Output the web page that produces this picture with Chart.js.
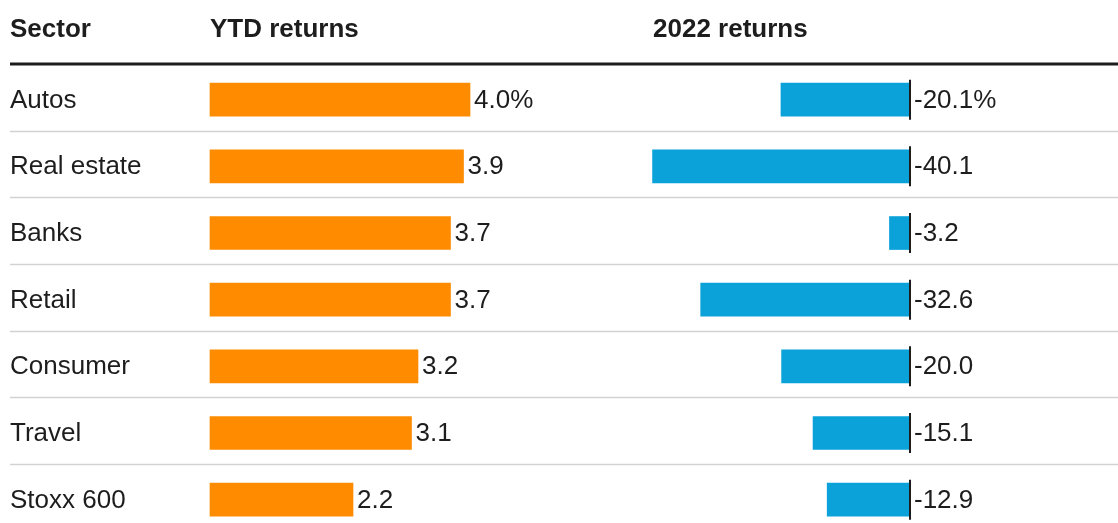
<!DOCTYPE html>
<html>
<head>
  <meta charset="UTF-8">
  <title>Sector returns</title>
  <script src="https://cdn.jsdelivr.net/npm/chart.js"></script>
  <style>
    html, body { margin: 0; padding: 0; background: #fff; }
    #wrap { width: 1118px; height: 523px; }
  </style>
</head>
<body>
  <div id="wrap"><canvas id="chart" width="1118" height="523"></canvas></div>

  <script>
    const sectors = ['Autos', 'Real estate', 'Banks', 'Retail', 'Consumer', 'Travel', 'Stoxx 600'];
    const ytdReturns = [4.0, 3.9, 3.7, 3.7, 3.2, 3.1, 2.2];
    const returns2022 = [-20.1, -40.1, -3.2, -32.6, -20.0, -15.1, -12.9];
    const headers = ['Sector', 'YTD returns', '2022 returns'];

    const ORANGE = '#ff8c00', BLUE = '#0ba2d9', INK = '#1d1d1d', RULE = '#d2d2d2';
    const FONT = '"Liberation Sans", Arial, sans-serif';

    // first row carries the unit
    const fmt = (v, i) => v.toFixed(1) + (i === 0 ? '%' : '');

    // header, row rules, sector names, value labels and the zero ticks
    const tablePlugin = {
      id: 'table',
      beforeDatasetsDraw(chart) {
        const { ctx, scales: { y } } = chart;
        ctx.save();
        ctx.strokeStyle = RULE;
        ctx.lineWidth = 1.5;
        for (let i = 0; i < sectors.length - 1; i++) {
          const yy = Math.round(y.getPixelForValue(i) + 31) + 0.5;
          ctx.beginPath();
          ctx.moveTo(10, yy);
          ctx.lineTo(chart.width, yy);
          ctx.stroke();
        }
        ctx.strokeStyle = INK;
        ctx.lineWidth = 3;
        ctx.beginPath();
        ctx.moveTo(10, 64);
        ctx.lineTo(chart.width, 64);
        ctx.stroke();
        ctx.restore();
      },
      afterDatasetsDraw(chart) {
        const { ctx, scales: { y, x1, x2 } } = chart;
        ctx.save();
        ctx.fillStyle = INK;
        ctx.textBaseline = 'alphabetic';
        ctx.textAlign = 'left';

        ctx.font = 'bold 26px ' + FONT;
        ctx.fillText(headers[0], 10, 37);
        ctx.fillText(headers[1], x1.getPixelForValue(0), 37);
        ctx.fillText(headers[2], 653, 37);

        const zero = x2.getPixelForValue(0);
        const ytdBars = chart.getDatasetMeta(0).data;

        ctx.font = '26px ' + FONT;
        sectors.forEach((name, i) => {
          const cy = y.getPixelForValue(i);
          ctx.fillStyle = INK;
          ctx.fillText(name, 10, cy + 8);
          ctx.fillText(fmt(ytdReturns[i], i), ytdBars[i].x + 4, cy + 8);
          ctx.fillText(fmt(returns2022[i], i), zero + 4, cy + 8);

          ctx.strokeStyle = INK;
          ctx.lineWidth = 2;
          ctx.beginPath();
          ctx.moveTo(zero, cy - 20);
          ctx.lineTo(zero, cy + 20);
          ctx.stroke();
        });
        ctx.restore();
      }
    };

    new Chart(document.getElementById('chart'), {
      type: 'bar',
      data: {
        labels: sectors,
        datasets: [
          { label: 'YTD returns', data: ytdReturns, backgroundColor: ORANGE,
            xAxisID: 'x1', yAxisID: 'y', grouped: false, barThickness: 33, clip: false },
          { label: '2022 returns', data: returns2022, backgroundColor: BLUE,
            xAxisID: 'x2', yAxisID: 'y', grouped: false, barThickness: 33, clip: false }
        ]
      },
      options: {
        indexAxis: 'y',
        responsive: false,
        animation: false,
        layout: { padding: { top: 99.7, bottom: 23.3, left: 0, right: 0 } },
        plugins: { legend: { display: false }, tooltip: { enabled: false } },
        scales: {
          y: { type: 'category', offset: false, display: false },
          // 0 sits at x=210, 4.0 at x=470
          x1: { type: 'linear', display: false, min: -210 / 65, max: 908 / 65 },
          // 0 sits at x=910, -40.1 at x≈653
          x2: { type: 'linear', display: false, min: -910 / 6.42, max: 208 / 6.42 }
        }
      },
      plugins: [tablePlugin]
    });
  </script>
</body>
</html>
